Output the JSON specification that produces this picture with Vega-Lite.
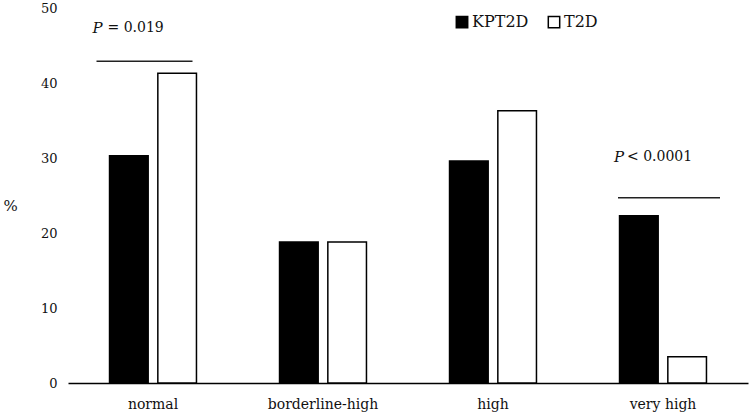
{
  "$schema": "https://vega.github.io/schema/vega-lite/v6.json",
  "width": 680,
  "height": 375,
  "autosize": {"type": "none"},
  "padding": {"left": 68, "top": 8, "right": 2, "bottom": 35},
  "background": "white",
  "config": {
    "view": {"stroke": null},
    "font": "DejaVu Serif",
    "axis": {"labelFont": "DejaVu Serif", "titleFont": "DejaVu Serif", "labelColor": "#111", "titleColor": "#111", "grid": false, "ticks": false},
    "legend": {"labelFont": "DejaVu Serif"}
  },
  "datasets": {
    "bars": [
      {"category": "normal", "group": "KPT2D", "value": 30.3},
      {"category": "normal", "group": "T2D", "value": 41.3},
      {"category": "borderline-high", "group": "KPT2D", "value": 18.8},
      {"category": "borderline-high", "group": "T2D", "value": 18.8},
      {"category": "high", "group": "KPT2D", "value": 29.6},
      {"category": "high", "group": "T2D", "value": 36.3},
      {"category": "very high", "group": "KPT2D", "value": 22.3},
      {"category": "very high", "group": "T2D", "value": 3.5}
    ],
    "ann": [
      {"category": "normal", "p": "P", "rest": "= 0.019", "liney": 42.9, "texty": 47.3},
      {"category": "very high", "p": "P", "rest": "< 0.0001", "liney": 24.7, "texty": 30.1}
    ]
  },
  "layer": [
    {
      "data": {"name": "bars"},
      "mark": {"type": "bar", "stroke": "black", "strokeWidth": 1.5},
      "encoding": {
        "x": {
          "field": "category", "type": "nominal",
          "sort": ["normal", "borderline-high", "high", "very high"],
          "scale": {"paddingInner": 0, "paddingOuter": 0},
          "axis": {"title": null, "labelAngle": 0, "labelFontSize": 14, "labelPadding": 14, "domainColor": "black", "domainWidth": 1.5}
        },
        "xOffset": {
          "field": "group", "type": "nominal", "sort": ["KPT2D", "T2D"],
          "scale": {"paddingInner": 0.2, "paddingOuter": 0.86}
        },
        "y": {
          "field": "value", "type": "quantitative",
          "scale": {"domain": [0, 50], "nice": false},
          "axis": {"title": "%", "titleAngle": 0, "titleFontSize": 15, "titleFontWeight": "normal", "titleX": -58, "titleY": 197, "titleBaseline": "middle", "titleAlign": "center", "values": [0, 10, 20, 30, 40, 50], "labelFontSize": 13, "labelPadding": 11, "domain": false}
        },
        "fill": {
          "field": "group", "type": "nominal",
          "scale": {"domain": ["KPT2D", "T2D"], "range": ["black", "white"]},
          "legend": {"title": null, "orient": "none", "legendX": 386, "legendY": 6, "direction": "horizontal", "symbolType": "square", "symbolSize": 130, "symbolStrokeColor": "black", "symbolStrokeWidth": 1.5, "labelFontSize": 16, "labelColor": "#111", "labelOffset": 2, "columnPadding": 16}
        }
      }
    },
    {
      "data": {"name": "ann"},
      "transform": [{"filter": "datum.category === 'normal'"}],
      "mark": {"type": "rule", "color": "#222", "strokeWidth": 1.5, "xOffset": -56.5, "x2Offset": 39.5},
      "encoding": {
        "x": {"field": "category", "type": "nominal", "sort": ["normal", "borderline-high", "high", "very high"]},
        "x2": {"field": "category"},
        "y": {"field": "liney", "type": "quantitative"}
      }
    },
    {
      "data": {"name": "ann"},
      "transform": [{"filter": "datum.category === 'very high'"}],
      "mark": {"type": "rule", "color": "#222", "strokeWidth": 1.5, "xOffset": -45, "x2Offset": 57},
      "encoding": {
        "x": {"field": "category", "type": "nominal", "sort": ["normal", "borderline-high", "high", "very high"]},
        "x2": {"field": "category"},
        "y": {"field": "liney", "type": "quantitative"}
      }
    },
    {
      "data": {"name": "ann"},
      "transform": [{"filter": "datum.category === 'normal'"}],
      "mark": {"type": "text", "fontStyle": "italic", "fontSize": 15, "align": "left", "baseline": "middle", "dx": -60.5, "color": "#111"},
      "encoding": {
        "x": {"field": "category", "type": "nominal", "sort": ["normal", "borderline-high", "high", "very high"]},
        "y": {"field": "texty", "type": "quantitative"},
        "text": {"field": "p"}
      }
    },
    {
      "data": {"name": "ann"},
      "transform": [{"filter": "datum.category === 'normal'"}],
      "mark": {"type": "text", "fontSize": 14, "align": "left", "baseline": "middle", "dx": -45.5, "color": "#111"},
      "encoding": {
        "x": {"field": "category", "type": "nominal", "sort": ["normal", "borderline-high", "high", "very high"]},
        "y": {"field": "texty", "type": "quantitative"},
        "text": {"field": "rest"}
      }
    },
    {
      "data": {"name": "ann"},
      "transform": [{"filter": "datum.category === 'very high'"}],
      "mark": {"type": "text", "fontStyle": "italic", "fontSize": 15, "align": "left", "baseline": "middle", "dx": -49, "color": "#111"},
      "encoding": {
        "x": {"field": "category", "type": "nominal", "sort": ["normal", "borderline-high", "high", "very high"]},
        "y": {"field": "texty", "type": "quantitative"},
        "text": {"field": "p"}
      }
    },
    {
      "data": {"name": "ann"},
      "transform": [{"filter": "datum.category === 'very high'"}],
      "mark": {"type": "text", "fontSize": 14, "align": "left", "baseline": "middle", "dx": -36, "color": "#111"},
      "encoding": {
        "x": {"field": "category", "type": "nominal", "sort": ["normal", "borderline-high", "high", "very high"]},
        "y": {"field": "texty", "type": "quantitative"},
        "text": {"field": "rest"}
      }
    }
  ]
}
